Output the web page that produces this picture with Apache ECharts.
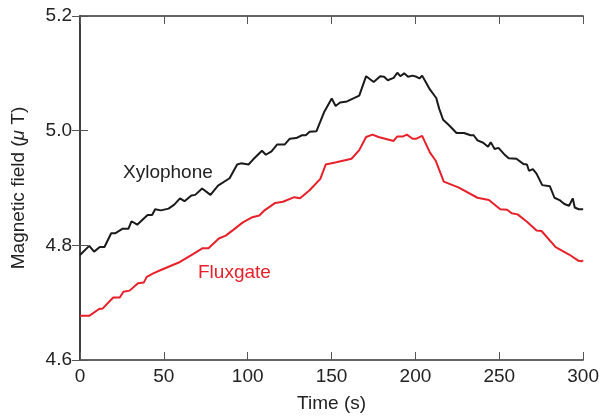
<!DOCTYPE html>
<html>
<head>
<meta charset="utf-8">
<script src="https://cdn.jsdelivr.net/npm/echarts@6/dist/echarts.min.js"></script>
<style>html,body{margin:0;padding:0;background:#fff}#c{width:602px;height:418px}</style>
</head>
<body>
<div id="c"></div>
<script>
var xTicks = [0, 50, 100, 150, 200, 250, 300];
var yTicks = [4.6, 4.8, 5.0, 5.2];

var xyloTime = [0,5.5,8.4,11.8,14.6,18.6,20.9,25.5,28.9,30.7,34.1,40.3,43,44.8,48.2,52.8,56.2,59.6,62.3,66.4,68.7,72.8,77.8,82.3,89.2,93.7,96,100.5,103.3,108.5,110.8,114.2,117.6,122.1,125.1,128.9,132.4,134.6,136.9,138,141,145.5,150.1,152.4,155.1,159.2,166.5,170.6,175.1,179,181.3,183.5,187,189.2,191,193.3,195.6,198.3,200.6,202.4,204,206.3,208.6,212.4,214.2,216.5,219.9,224.5,229,232.9,234.7,237,240.4,243.3,244.9,247.2,249.5,252.9,255.6,260.2,264.3,266.5,267.7,270,272.2,275.6,280.2,282.9,285.9,288.8,291.6,293.8,295,297.3,300];
var xyloField = [4.783,4.799,4.789,4.797,4.797,4.821,4.821,4.829,4.829,4.842,4.836,4.853,4.853,4.863,4.861,4.864,4.871,4.882,4.877,4.887,4.888,4.899,4.888,4.904,4.917,4.941,4.943,4.941,4.950,4.965,4.958,4.964,4.976,4.976,4.986,4.987,4.992,4.992,4.998,4.997,4.999,5.032,5.056,5.043,5.049,5.051,5.061,5.095,5.085,5.095,5.094,5.088,5.092,5.101,5.095,5.100,5.094,5.096,5.094,5.091,5.096,5.084,5.072,5.057,5.038,5.019,5.010,4.996,4.996,4.992,4.992,4.983,4.979,4.972,4.980,4.968,4.970,4.959,4.952,4.951,4.942,4.941,4.930,4.933,4.925,4.905,4.903,4.883,4.879,4.872,4.869,4.882,4.866,4.863,4.863];

var fluxTime = [0,5.5,11.4,13.6,19.8,23.7,25.9,29.6,34.6,38,39.8,43.7,48.2,53.9,59.6,66.4,73.2,76.6,82.8,86.9,91.4,97.1,102.8,106.9,109.6,116.4,121,127.8,131.2,136.9,143.3,146.5,152.8,161.9,166.5,170.6,174.4,178,187,189.2,192.6,194.9,198.3,200.6,204,208.6,212,216.9,225.6,237,243.8,250.6,254.7,257.4,260.9,266.5,272.2,275.2,283.6,291.6,297.3,299,300];
var fluxField = [4.677,4.677,4.689,4.690,4.709,4.709,4.719,4.721,4.734,4.735,4.745,4.751,4.757,4.764,4.771,4.783,4.795,4.795,4.812,4.817,4.827,4.840,4.849,4.852,4.860,4.874,4.876,4.884,4.882,4.896,4.916,4.941,4.945,4.951,4.966,4.989,4.993,4.989,4.982,4.990,4.990,4.993,4.986,4.986,4.991,4.962,4.948,4.911,4.901,4.883,4.879,4.863,4.862,4.856,4.854,4.841,4.826,4.825,4.797,4.784,4.773,4.772,4.774];

function pairs(t, v) { return t.map(function (x, i) { return [x, v[i]]; }); }

var font = 'Liberation Sans, Arial, Helvetica, sans-serif';
var axisCol = '#333';
var tickStyle = { inside: true, length: 8, lineStyle: { color: '#555', width: 1 } };

var chart = echarts.init(document.getElementById('c'), null, { renderer: 'canvas' });
chart.setOption({
  animation: false,
  backgroundColor: '#fff',
  grid: { left: 80, right: 16, top: 16, bottom: 54, containLabel: false },
  xAxis: [{
    type: 'value', min: xTicks[0], max: xTicks[xTicks.length - 1], interval: 50,
    position: 'bottom',
    name: 'Time (s)', nameLocation: 'middle', nameGap: 34,
    nameTextStyle: { fontFamily: font, fontSize: 19, color: '#222' },
    axisLine: { show: true, lineStyle: { color: axisCol, width: 1.5 } },
    axisTick: tickStyle,
    axisLabel: { fontFamily: font, fontSize: 19, color: '#222', margin: 7 },
    splitLine: { show: false }
  }, {
    type: 'value', min: xTicks[0], max: xTicks[xTicks.length - 1], interval: 50,
    position: 'top',
    axisLine: { show: true, lineStyle: { color: axisCol, width: 1.5 } },
    axisTick: tickStyle,
    axisLabel: { show: false },
    splitLine: { show: false }
  }],
  yAxis: [{
    type: 'value', min: yTicks[0], max: yTicks[yTicks.length - 1], interval: 0.2,
    position: 'left',
    name: '{a|Magnetic field (}{b|μ}{a| T)}', nameLocation: 'middle', nameGap: 52, nameRotate: 90,
    nameTextStyle: {
      fontFamily: font, fontSize: 19, color: '#222',
      rich: {
        a: { fontFamily: font, fontSize: 19, color: '#222' },
        b: { fontFamily: font, fontSize: 19, color: '#222', fontStyle: 'italic' }
      }
    },
    axisLine: { show: true, lineStyle: { color: axisCol, width: 1.5 } },
    axisTick: tickStyle,
    axisLabel: { fontFamily: font, fontSize: 19, color: '#222', margin: 8,
      formatter: function (v) { return v.toFixed(1); } },
    splitLine: { show: false }
  }, {
    type: 'value', min: yTicks[0], max: yTicks[yTicks.length - 1], interval: 0.2,
    position: 'right',
    axisLine: { show: true, lineStyle: { color: axisCol, width: 1.5 } },
    axisTick: tickStyle,
    axisLabel: { show: false },
    splitLine: { show: false }
  }],
  series: [{
    name: 'Xylophone', type: 'line', xAxisIndex: 0, yAxisIndex: 0,
    data: pairs(xyloTime, xyloField), showSymbol: false, symbol: 'none',
    lineStyle: { color: '#1a1a1a', width: 2 }, z: 3
  }, {
    name: 'Fluxgate', type: 'line', xAxisIndex: 0, yAxisIndex: 0,
    data: pairs(fluxTime, fluxField), showSymbol: false, symbol: 'none',
    lineStyle: { color: '#e8202a', width: 2 }, z: 3
  }],
  graphic: [{
    type: 'text', left: 123, top: 163,
    style: { text: 'Xylophone', font: '19px ' + font, fill: '#222' }
  }, {
    type: 'text', left: 198, top: 263,
    style: { text: 'Fluxgate', font: '19px ' + font, fill: '#e8202a' }
  }]
});
</script>
</body>
</html>
